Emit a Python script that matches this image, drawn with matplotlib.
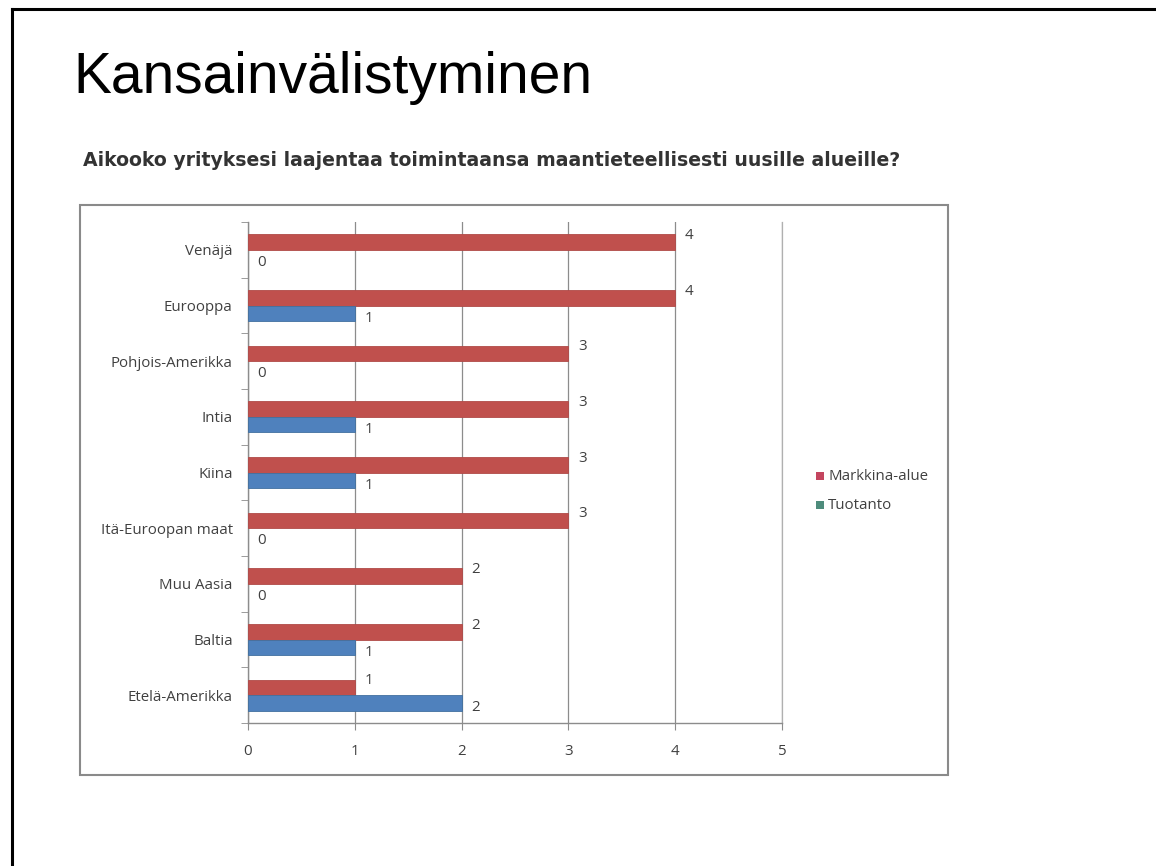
import matplotlib
matplotlib.use("Agg")
import matplotlib.pyplot as plt
from matplotlib.patches import Rectangle
import numpy as np

categories = ["Venäjä", "Eurooppa", "Pohjois-Amerikka", "Intia", "Kiina",
              "Itä-Euroopan maat", "Muu Aasia", "Baltia", "Etelä-Amerikka"]
markkina = [4, 4, 3, 3, 3, 3, 2, 2, 1]
tuotanto = [0, 1, 0, 1, 1, 0, 0, 1, 2]
series_names = ["Markkina-alue", "Tuotanto"]
x_ticks = [0, 1, 2, 3, 4, 5]

title = "Kansainvälistyminen"
subtitle = "Aikooko yrityksesi laajentaa toimintaansa maantieteellisesti uusille alueille?"

RED = "#C0504D"
BLUE = "#4F81BD"
GRID = "#8C8C8C"
TXT = "#404040"

fig = plt.figure(figsize=(11.56, 8.66), dpi=100)
fig.patch.set_facecolor("white")

# slide border
fig.add_artist(plt.Line2D([11.5/1156, 11.5/1156], [0, 1 - 9/866], color="black", lw=2.2,
                          transform=fig.transFigure))
fig.add_artist(plt.Line2D([11.5/1156, 1.0], [1 - 9/866, 1 - 9/866], color="black", lw=2.2,
                          transform=fig.transFigure))

fig.text(73/1156, 1 - 78/866, title, fontsize=41, family="Liberation Sans",
         va="center", ha="left", color="black")
fig.text(83/1156, 1 - 160/866, subtitle, fontsize=13.6, family="DejaVu Sans",
         fontweight="bold", va="center", ha="left", color="#333333")

# chart frame
fig.add_artist(Rectangle((80/1156, 1 - 775/866), 868/1156, 570/866,
                         transform=fig.transFigure, fill=False,
                         edgecolor="#8A8A8A", lw=1.5))

ax = fig.add_axes([248/1156, 1 - 723/866, 534/1156, 501/866])
n = len(categories)
y = np.arange(n)
h = 0.28
ax.barh(y - h/2, markkina, height=h, color=RED, edgecolor="#B04A47",
        lw=[0.6 if v > 0 else 0 for v in markkina], label=series_names[0], zorder=3)
ax.barh(y + h/2, tuotanto, height=h, color=BLUE, edgecolor="#41709F",
        lw=[0.6 if v > 0 else 0 for v in tuotanto], label=series_names[1], zorder=3)

lbl_font = dict(fontsize=10.8, family="Open Sans", color=TXT)
for i in range(n):
    ax.text(markkina[i] + 0.09, y[i] - h/2 - 0.12, str(markkina[i]), va="center", ha="left", **lbl_font)
    ax.text(tuotanto[i] + 0.09, y[i] + h/2 + 0.09, str(tuotanto[i]), va="center", ha="left", **lbl_font)

ax.set_xlim(0, 5)
ax.set_ylim(n - 0.5, -0.5)
ax.set_xticks(x_ticks)
ax.set_xticklabels([str(v) for v in x_ticks], **lbl_font)
ax.set_yticks(y)
ax.set_yticklabels(categories, **lbl_font)
ax.set_yticks(np.arange(-0.5, n, 1.0), minor=True)
ax.tick_params(axis="y", which="major", length=0, pad=11)
ax.tick_params(axis="y", which="minor", length=5, color=GRID, direction="out")
ax.tick_params(axis="x", which="major", length=5, color=GRID, pad=10)
ax.grid(axis="x", color=GRID, lw=0.9, zorder=0)
ax.axvline(5, color="#B0B0B0", lw=0.9, clip_on=False, zorder=0)
for s in ["top", "right"]:
    ax.spines[s].set_visible(False)
for s in ["left", "bottom"]:
    ax.spines[s].set_color(GRID)
    ax.spines[s].set_linewidth(1.0)
ax.set_facecolor("white")

# legend
leg_colors = ["#C4455F", "#4E8C7C"]
for k, (name, c) in enumerate(zip(series_names, leg_colors)):
    yy = 1 - (476 + 29 * k) / 866
    fig.add_artist(Rectangle((816/1156, yy - 4/866), 8/1156, 8/866,
                             transform=fig.transFigure, facecolor=c, edgecolor="none"))
    fig.text(828/1156, yy, name, va="center", ha="left", **lbl_font)

fig.savefig("out.png", dpi=100, facecolor="white")
